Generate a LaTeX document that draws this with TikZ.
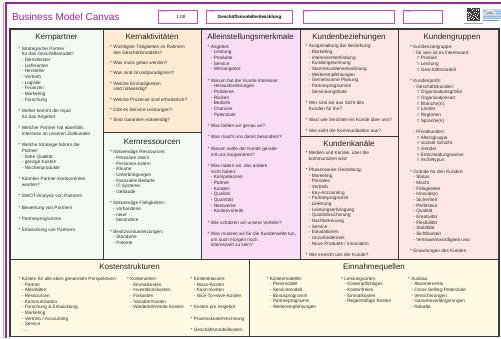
\documentclass[tikz,border=0pt]{standalone}
\usepackage{fontspec}
\setmainfont{Liberation Sans}
\definecolor{purp}{HTML}{A0209C}
\definecolor{frame}{HTML}{9A2896}
\definecolor{boxb}{HTML}{C94CC6}
\definecolor{gridc}{HTML}{3A3A3A}
\definecolor{textc}{HTML}{2E2E2E}
\definecolor{kpc}{HTML}{F3FAF3}
\definecolor{kac}{HTML}{FEEBD3}
\definecolor{krc}{HTML}{F3FAF3}
\definecolor{amc}{HTML}{F8DDF4}
\definecolor{kbc}{HTML}{FCE7E3}
\definecolor{ksc}{HTML}{FFFAE4}
\definecolor{logob}{HTML}{8DB8E4}
\definecolor{logoo}{HTML}{F0A040}
\newcommand\ia{\hspace*{3.2pt}}
\newcommand\ib{\hspace*{6.6pt}}
\newcommand\gp{\\[5.67pt]}
\newcommand\gs{\\[4.6pt]}
\begin{document}
\begin{tikzpicture}[x=1pt,y=-1pt,
  ttl/.style={font=\fontsize{8}{9}\selectfont, text=black!88, inner sep=0, anchor=base},
  txt/.style={font=\fontsize{4.7}{5.67}\selectfont, text=textc, align=left, anchor=north west, inner sep=0},
  cell/.style={draw=gridc, line width=0.7pt},
  hbox/.style={draw=boxb, line width=1pt, fill=white},
  lbl/.style={font=\fontsize{2.4}{3}\selectfont, text=boxb, anchor=north west, inner sep=0}]
\useasboundingbox (0,0) rectangle (501,338);
\fill[white] (0,0) rectangle (501,338);
% purple frame
\draw[frame!45, line width=0.6pt] (3.2,3) -- (3.2,338);
\draw[frame, line width=1.4pt] (6,3) -- (6,338);
\draw[frame, line width=1.4pt] (5.3,3) -- (501,3);
% header
\node[font=\fontsize{10}{12}\selectfont, text=purp, anchor=west, inner sep=0] (title) at (12,17) {Business Model Canvas};
\draw[hbox] (158,10) rectangle (197,23);
\node[lbl] (l1) at (159.5,11) {Version};
\node[font=\fontsize{4.5}{5}\selectfont, inner sep=0] (ver) at (181,17.3) {1.00};
\draw[hbox] (206,10) rectangle (292,23);
\node[lbl] (l2) at (207.5,11) {Projekt};
\node[font=\fontsize{4.6}{5}\selectfont\bfseries, inner sep=0] (proj) at (249.5,17.3) {Geschäftsmodellentwicklung};
\draw[hbox] (303,10) rectangle (394,23);
\node[lbl] (l3) at (304.5,11) {Autor};
\draw[hbox] (403,10) rectangle (442,23);
\node[lbl] (l4) at (404.5,11) {Datum};
% QR code
\begin{scope}[shift={(467,8)}]
  \fill[black!75] (0,0) rectangle (12.5,12.5);
  \foreach \a/\b in {4/0,6/1,5/2,0/4,2/4,3/5,7/4,9/4,11/5,4/6,6/7,8/6,10/7,1/7,3/8,5/9,7/10,9/9,11/11,6/11,4/10,10/10,8/8,1/5}
    \fill[white] (\a,\b) rectangle +(1,1);
  \foreach \a/\b in {0/0,8.5/0,0/8.5}
    {\fill[white] (\a+0.6,\b+0.6) rectangle +(2.8,2.8); \fill[black!75] (\a+1.3,\b+1.3) rectangle +(1.4,1.4);}
\end{scope}
\draw[black!35, line width=0.4pt] (463.5,23.3) -- (483,23.3);
% logo
\fill[logob!55] (482.5,9) rectangle (501,22);
\foreach \yy in {10.5,13,15.5,18}
  \fill[logob] (482.5,\yy) rectangle (501,\yy+1.1);
\draw[white, line width=0.9pt] (484,14) -- (490,10) -- (496,14);
\fill[logoo] (487,12.2) rectangle (493,13);
\fill[white] (482.5,19.3) rectangle (501,22);
\fill[logob!80!black] (483,19.8) rectangle (499,21.4);
% cell fills and borders
\draw[cell, fill=kpc] (10,29) rectangle (103,259);
\draw[cell, fill=kac] (103,29) rectangle (201,132);
\draw[cell, fill=krc] (103,132) rectangle (201,259);
\draw[cell, fill=amc] (201,29) rectangle (300,259);
\draw[cell, fill=kbc] (300,29) rectangle (398,136);
\draw[cell, fill=kbc] (300,136) rectangle (398,259);
\draw[cell, fill=kbc] (398,29) rectangle (499,259);
\draw[cell, fill=ksc] (10,259) rectangle (249,336.5);
\draw[cell, fill=ksc] (249,259) rectangle (499,336.5);
\draw[gridc, line width=1.3pt] (10,29) rectangle (499,336.5);
% titles
\node[ttl] (t1) at (56.5,39) {Kernpartner};
\node[ttl] (t2) at (152,39) {Kernaktivitäten};
\node[ttl] (t3) at (250.5,39) {Alleinstellungsmerkmale};
\node[ttl] (t4) at (349,39) {Kundenbeziehungen};
\node[ttl] (t5) at (452,39) {Kundengruppen};
\node[ttl] (t6) at (152,144) {Kernressourcen};
\node[ttl] (t7) at (349,146.5) {Kundenkanäle};
\node[ttl] (t8) at (129.5,269.5) {Kostenstrukturen};
\node[ttl] (t9) at (374,269.5) {Einnahmequellen};
% Kernpartner
\node[txt] (kp) at (18.5,46.1) {\strut* Strategische Partner\\
\ia für das Geschäftsmodell:\\
\ia - Dienstleister\\
\ia - Lieferanten\\
\ia - Hersteller\\
\ia - Vertrieb\\
\ia - Logistik\\
\ia - Finanzen\\
\ia - Marketing\\
\ia - Forschung\gp
* Woher kommt der Input\\
\ia für das Angebot\gp
* Welcher Partner hat ebenfalls\\
\ia Interesse an unseren Zielkunden\gp
* Welche Strategie fahren die\\
\ia Partner:\\
\ia - hohe Qualität\\
\ia - geringe Kosten\\
\ia - Nischenprodukte\gp
* Könnten Partner Konkurrenten\\
\ia werden?\gp
* SWOT-Analyse von Partnern\gp
* Bewertung von Partnern\gp
* Partnerprogramme\gp
* Entwicklung von Partnern};
% Kernaktivitaeten
\node[txt] (ka) at (110,44.6) {\strut* Wichtigste Tätigkeiten im Rahmen\\
\ia des Geschäftsmodells?\gs
* Was muss getan werden?\gs
* Was sind Grundparadigmen?\gs
* Welche Einmaligkeiten\\
\ia sind notwendig?\gs
* Welche Prozesse sind erforderlich?\gs
* Gibt es Service-Leistungen?\gs
* Sind Garantien notwendig?};
% Kernressourcen
\node[txt] (kr) at (110,149.6) {\strut* Notwendige Ressourcen:\\
\ia - Personen intern\\
\ia - Personen extern\\
\ia - Räume\\
\ia - Unterbringungen\\
\ia - finanzielle Bedarfe\\
\ia - IT-Systeme\\
\ia - Gebäude\gp
* Notwendige Fähigkeiten:\\
\ia - vorhandene\\
\ia - neue\\
\ia - besondere\gp
* Besitzvoraussetzungen:\\
\ia - Standorte\\
\ia - Patente};
% Alleinstellungsmerkmale
\node[txt] (am) at (207.5,44.1) {\strut* Angebot:\\
\ia - Leistung\\
\ia - Produkte\\
\ia - Service\\
\ia - Wertangebot\gp
* Warum hat der Kunde Interesse:\\
\ia - Herausforderungen\\
\ia - Probleme\\
\ia - Risiken\\
\ia - Bedarfe\\
\ia - Chancen\\
\ia - Potenziale\gp
* Was bieten wir genau an?\gp
* Was macht uns damit besonders?\gp
* Warum sollte der Kunde gerade\\
\ia mit uns kooperieren?\gp
* Was haben wir, das andere\\
\ia nicht haben:\\
\ia - Kompetenzen\\
\ia - Partner\\
\ia - Kunden\\
\ia - Qualität\\
\ia - Quantität\\
\ia - Netzwerke\\
\ia - Kostenvorteile\gp
* Wie schätzen wir unsere Vorteile?\gp
* Was müssen wir für die Kundenseite tun,\\
\ia um auch morgen noch\\
\ia interessant zu sein?};
% Kundenbeziehungen
\node[txt] (kb) at (305.5,43.6) {\strut* Ausgestaltung der Beziehung:\\
\ia - Marketing\\
\ia - Interessentenfindung\\
\ia - Kundengewinnung\\
\ia - Stammkundenentwicklung\\
\ia - Weiterempfehlungen\\
\ia - Gemeinsame Planung\\
\ia - Partnerprogramme\\
\ia - Serviceangebote\gp
* Wer sind wir aus Sicht des\\
\ia Kunden für ihn?\gp
* Was/ wie berichtet ein Kunde über uns?\gp
* Wie sieht die Kommunikation aus?};
% Kundenkanaele
\node[txt] (kk) at (305.5,150.3) {\strut* Medien und Kanäle, über die\\
\ia kommuniziert wird\gp
* Phasenweise Gestaltung:\\
\ia - Marketing\\
\ia - Presales\\
\ia - Vertrieb\\
\ia - Key-Accounting\\
\ia - Partnerprogramm\\
\ia - Lieferung\\
\ia - Leistungserbringung\\
\ia - Qualitätssicherung\\
\ia - Nachbetreuung\\
\ia - Service\\
\ia - Eskalationen\\
\ia - Unzufriedenheit\\
\ia - Neue Produkte / Innovation\gp
* Wie erreicht uns der Kunde?};
% Kundengruppen
\node[txt] (kg) at (410,44.3) {\strut* Kundenzielgruppe:\\
\ia - für wen ist es interessant:\\
\ib = Produkt\\
\ib = Leistung\\
\ib = Geschäftsmodell\gp
* Kundenprofil:\\
\ia - Geschäftskunden:\\
\ib = Organisationsgröße\\
\ib = Organisationsart\\
\ib = Branche(n)\\
\ib = Länder\\
\ib = Regionen\\
\ib = Sprache(n)\gp
\ia - Privatkunden:\\
\ib = Altersgruppe\\
\ib = soziale Schicht\\
\ib = Gender\\
\ib = Entscheidungsweise\\
\ib = Archetypus\gp
* Gründe für den Kunden:\\
\ia - Status\\
\ia - Macht\\
\ia - Fähigkeiten\\
\ia - Innovation\\
\ia - Sicherheit\\
\ia - Perfektion\\
\ia - Qualität\\
\ia - Kreativität\\
\ia - Flexibilität\\
\ia - Stabilität\\
\ia - Sichtbarkeit\\
\ia - Vertrauenswürdigkeit usw.\gp
* Erwartungen des Kunden};
% Kostenstrukturen
\node[txt] (ks1) at (18.5,276.3) {\strut* Kosten für alle oben genannten Perspektiven:\\
\ia - Partner\\
\ia - Aktivitäten\\
\ia - Ressourcen\\
\ia - Kommunikation\\
\ia - Forschung \& Entwicklung\\
\ia - Marketing\\
\ia - Vertrieb / Accounting\\
\ia - Service\\
\ia - ...};
\node[txt] (ks2) at (127,276.3) {\strut* Kostenarten:\\
\ia - Einmalkosten\\
\ia - Investitionskosten\\
\ia - Fixkosten\\
\ia - Variable Kosten\\
\ia - Wiederkehrende Kosten};
\node[txt] (ks3) at (190.5,276.3) {\strut* Kostenklassen:\\
\ia - Muss-Kosten\\
\ia - Kann-Kosten\\
\ia - Nice-To-Have-Kosten\gp
* Kosten pro Angebot\gp
* Prozesskostenrechnung\gp
* Geschäftsmodellkosten};
% Einnahmequellen
\node[txt] (eq1) at (266.5,276.1) {\strut* Kostenmodelle:\\
\ia - Preismodell\\
\ia - Servicemodell\\
\ia - Bonusprogramm\\
\ia - Partnerprogramm\\
\ia - Weiterempfehlungen};
\node[txt] (eq2) at (341,276.1) {\strut* Leistungsarten:\\
\ia - Kostenpflichtiges\\
\ia - Kostenfreies\\
\ia - Einmalkosten\\
\ia - Regelmäßige Kosten};
\node[txt] (eq3) at (408,276.1) {\strut* Ausbau:\\
\ia - Abonnements\\
\ia - Cross-Selling-Potenziale\\
\ia - Versicherungen\\
\ia - Garantieverlängerungen\\
\ia - Rabatte};
\end{tikzpicture}
\end{document}
